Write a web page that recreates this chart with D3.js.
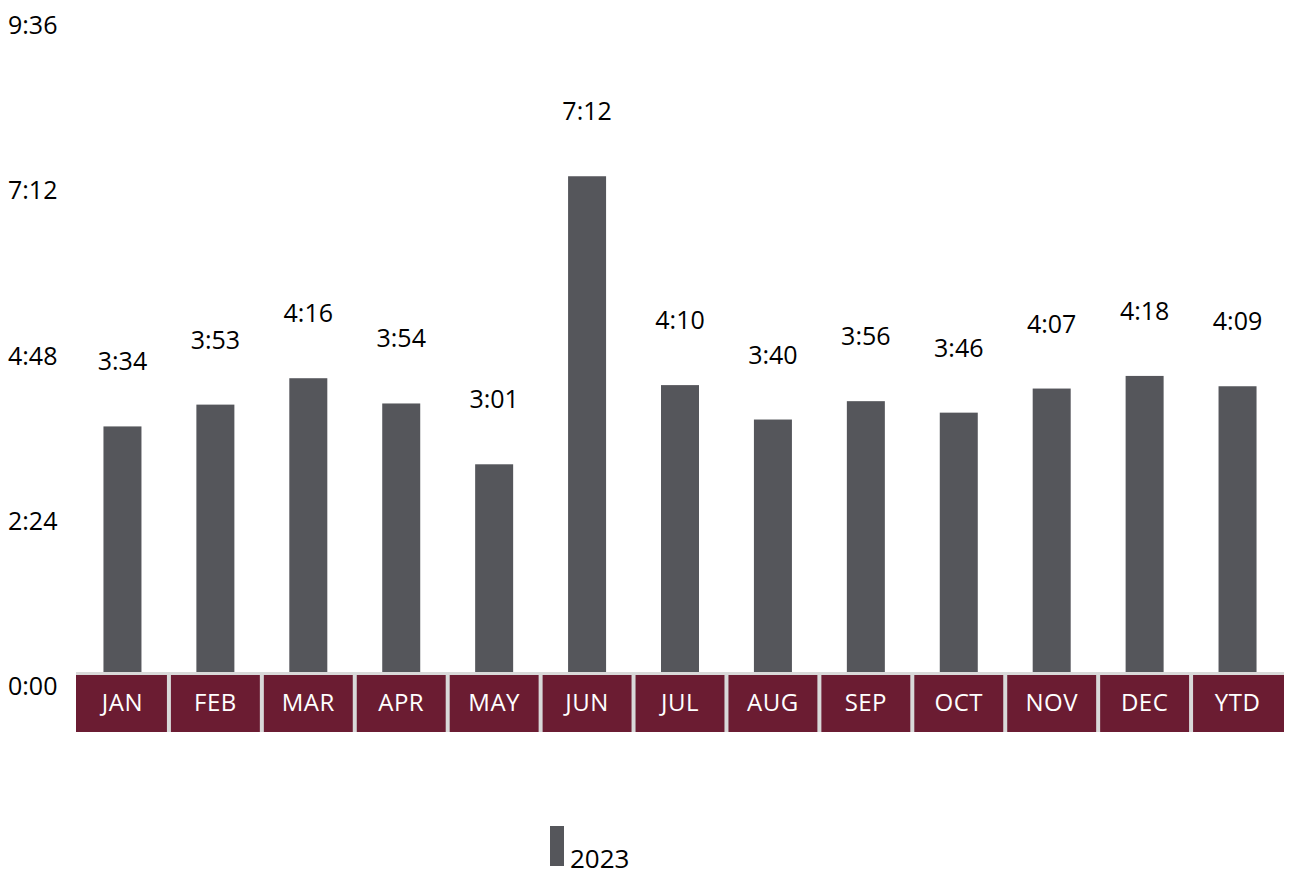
<!DOCTYPE html>
<html>
<head>
<meta charset="utf-8">
<script src="https://cdn.jsdelivr.net/npm/d3@7"></script>
<style>
  html, body { margin: 0; padding: 0; background: #fff; }
  svg text { font-family: "Open Sans", "Noto Sans", sans-serif; }
</style>
</head>
<body>
<svg id="chart" width="1289" height="875"></svg>
<script>
const categories = ["JAN","FEB","MAR","APR","MAY","JUN","JUL","AUG","SEP","OCT","NOV","DEC","YTD"];
const values2023 = ["3:34","3:53","4:16","3:54","3:01","7:12","4:10","3:40","3:56","3:46","4:07","4:18","4:09"];
const yTickLabels = ["0:00","2:24","4:48","7:12","9:36"];
const seriesName = "2023";

const toMin = s => { const [h, m] = s.split(":").map(Number); return h * 60 + m; };

const svg = d3.select("#chart");
const x0 = 76, x1 = 1284;
const yZero = 672, yTop = 11;

const x = d3.scaleBand().domain(categories).range([x0, x1]).paddingInner(0).paddingOuter(0);
const y = d3.scaleLinear().domain([0, toMin("9:36")]).range([yZero, yTop]);

// y tick labels
svg.append("g").selectAll("text").data(yTickLabels).join("text")
  .attr("x", 8)
  .attr("y", d => y(toMin(d)) + 23)
  .attr("font-size", 25)
  .attr("fill", "#000")
  .text(d => d);

// bars
const barW = 38;
svg.append("g").selectAll("rect").data(categories).join("rect")
  .attr("x", d => x(d) + x.bandwidth() / 2 - barW / 2)
  .attr("y", (d, i) => y(toMin(values2023[i])))
  .attr("width", barW)
  .attr("height", (d, i) => yZero - y(toMin(values2023[i])))
  .attr("fill", "#55565b");

// value labels
svg.append("g").selectAll("text").data(categories).join("text")
  .attr("x", d => x(d) + x.bandwidth() / 2)
  .attr("y", (d, i) => y(toMin(values2023[i])) - 56)
  .attr("text-anchor", "middle")
  .attr("font-size", 25)
  .attr("fill", "#000")
  .text((d, i) => values2023[i]);

// category table
const tbl = svg.append("g");
tbl.append("rect").attr("x", x0).attr("y", yZero).attr("width", x1 - x0).attr("height", 60).attr("fill", "#d9d9d9");
tbl.selectAll("rect.cell").data(categories).join("rect").attr("class", "cell")
  .attr("x", (d, i) => x(d) + (i === 0 ? 0 : 2))
  .attr("y", yZero + 3)
  .attr("width", (d, i) => x.bandwidth() - (i === 0 ? 2 : 4) + (i === categories.length - 1 ? 2 : 0))
  .attr("height", 57)
  .attr("fill", "#6b1c32");
tbl.selectAll("text.lab").data(categories).join("text").attr("class", "lab")
  .attr("x", d => x(d) + x.bandwidth() / 2)
  .attr("y", yZero + 39)
  .attr("text-anchor", "middle")
  .attr("font-size", 24)
  .attr("letter-spacing", 0.5)
  .attr("fill", "#fff")
  .text(d => d);

// legend
const lg = svg.append("g");
lg.append("rect").attr("x", 550).attr("y", 826).attr("width", 14).attr("height", 40).attr("fill", "#55565b");
lg.append("text").attr("x", 570).attr("y", 868).attr("font-size", 26).attr("fill", "#000").text(seriesName);
</script>
</body>
</html>
